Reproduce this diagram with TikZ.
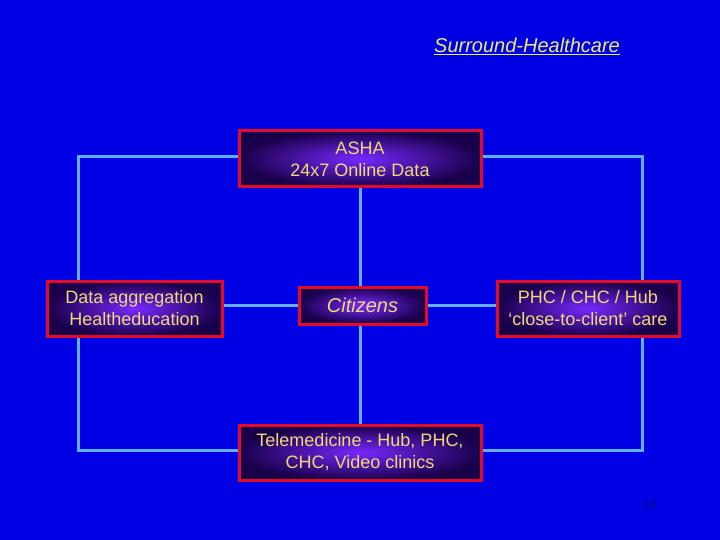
\documentclass[tikz,border=0pt]{standalone}
\usepackage{fontspec}
\usetikzlibrary{backgrounds}
\setmainfont{Liberation Sans}
\newfontfamily\serifnum{Liberation Serif}
\definecolor{bgblue}{RGB}{0,0,228}
\definecolor{linkblue}{RGB}{95,175,255}
\definecolor{boxred}{RGB}{230,10,40}
\definecolor{txtyellow}{RGB}{240,218,115}
\definecolor{titleyellow}{RGB}{235,235,110}
\definecolor{boxin}{RGB}{120,40,255}
\definecolor{boxout}{RGB}{25,0,75}
\definecolor{pagenum}{RGB}{0,0,80}
\begin{document}
\begin{tikzpicture}[x=1pt,y=-1pt,
  boxstyle/.style={draw=boxred,line width=3pt,inner color=boxin,outer color=boxout,
    text=txtyellow,align=center,inner sep=0pt,font=\fontsize{18}{22}\selectfont},
  link/.style={draw=linkblue,line width=3pt}]
\useasboundingbox (0,0) rectangle (720,540);
% nodes
\node[boxstyle,minimum width=242pt,minimum height=56pt] (asha) at (360,159) {ASHA\\24x7 Online Data};
\node[boxstyle,minimum width=175pt,minimum height=55pt] (left) at (134.5,308.5) {Data aggregation\\Healtheducation};
\node[boxstyle,minimum width=127pt,minimum height=37pt,font=\fontsize{20}{24}\selectfont\itshape] (cit) at (362.5,305.5) {Citizens};
\node[boxstyle,minimum width=182pt,minimum height=55pt] (right) at (588,308.5) {PHC / CHC / Hub\\`close-to-client' care};
\node[boxstyle,minimum width=242pt,minimum height=55pt] (tele) at (360,452.5) {Telemedicine - Hub, PHC,\\CHC, Video clinics};
\coordinate (tl) at (78,157);
\coordinate (tr) at (642,157);
\coordinate (bl) at (78,450);
\coordinate (br) at (642,450);
\coordinate (ct) at (360,157);
\coordinate (cb) at (360,450);
% background and connectors behind boxes
\begin{scope}[on background layer]
\fill[bgblue] (0,0) rectangle (720,540);
\path[link] (ct) -- (tl) -- (tl |- left.north);
\path[link] (tl |- left.south) -- (bl) -- (cb);
\path[link] (ct) -- (tr) -- (tr |- right.north);
\path[link] (tr |- right.south) -- (br) -- (cb);
\path[link] (ct) -- (cb);
\path[link] (left.east |- cit) -- (cit.west);
\path[link] (cit.east) -- (right.west |- cit);
\end{scope}
% title
\node[text=titleyellow,font=\fontsize{20}{24}\selectfont\itshape,anchor=base] (title) at (527,53) {\underline{Surround-Healthcare}};
\node[text=pagenum,font=\serifnum\fontsize{13}{15}\selectfont] (pg) at (649,505) {13};
\end{tikzpicture}
\end{document}
